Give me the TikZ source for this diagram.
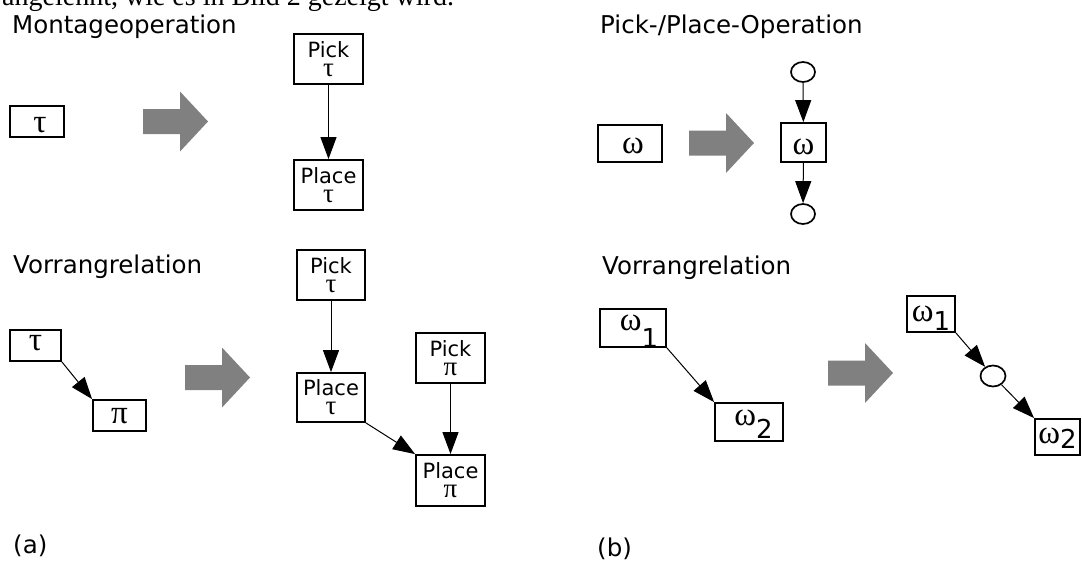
\documentclass[tikz,border=0pt]{standalone}
\usepackage{fontspec}
\setmainfont{DejaVu Sans}
\newfontfamily\grk{Liberation Serif}
\newfontfamily\serifbody{Liberation Serif}
\usetikzlibrary{arrows.meta,shapes.geometric}
\begin{document}
\begin{tikzpicture}[x=1pt,y=-1pt,
  head/.style={font=\fontsize{24.5}{29}\selectfont, anchor=base west, inner sep=0},
  box/.style={draw, line width=1.8pt, inner sep=0, rectangle},
  pp/.style={box, align=center, font=\fontsize{21}{19}\selectfont},
  gk/.style={box, font=\fontsize{33}{36}\grk},
  place/.style={draw, ellipse, line width=1.7pt, minimum width=24pt, minimum height=20pt, inner sep=0},
  conn/.style={line width=1pt, -{Triangle[length=22pt,width=16pt]}},
  bigarrow/.pic={\fill[black!50] (0,-12.5) -- (37,-12.5) -- (37,-30) -- (65,0) -- (37,30) -- (37,12.5) -- (0,12.5) -- cycle;}
]
\useasboundingbox[fill=white] (0,0) rectangle (1082,565);
\newcommand{\dig}[2]{\raisebox{-#1pt}{\normalfont\fontsize{26}{30}\selectfont #2}}
\newcommand{\gs}[1]{{\fontsize{27}{19}\grk #1}}

% clipped line of running text at the top
\begin{scope}
\clip (0,0) rectangle (1082,565);
\node[anchor=base west, inner sep=0, font=\fontsize{28}{32}\serifbody] (toptext) at (2,5) {angelehnt, wie es in Bild 2 gezeigt wird.};
\end{scope}

% headings
\node[head] (h1) at (12,33) {Montageoperation};
\node[head] (h2) at (600,33) {Pick-/Place-Operation};
\node[head] (h3) at (13,273) {Vorrangrelation};
\node[head] (h4) at (602,274) {Vorrangrelation};
\node[head] (la) at (13,553) {(a)};
\node[head] (lb) at (597,556) {(b)};

% (a) top: Montageoperation
\node[gk, minimum width=54pt, minimum height=31pt, text height=21pt, text depth=0pt] (tauA) at (37,121.5) {\hspace{6pt}τ};
\pic at (143,121.5) {bigarrow};
\node[pp, minimum width=69pt, minimum height=50pt] (pickTauA) at (328.5,59) {Pick\\\gs{τ}};
\node[pp, minimum width=69pt, minimum height=50pt] (placeTauA) at (328.5,185) {Place\\\gs{τ}};
\draw[conn] (pickTauA) -- (placeTauA);

% (a) bottom: Vorrangrelation
\node[gk, minimum width=51pt, minimum height=31pt, text height=9pt, text depth=0pt] (tauB) at (35.5,345.5) {τ};
\node[gk, minimum width=53pt, minimum height=31pt, text height=15pt, text depth=0pt] (piB) at (119.5,415.5) {π};
\draw[conn] (tauB.south east) -- (piB.north west);
\pic at (185,377.5) {bigarrow};
\node[pp, minimum width=68pt, minimum height=50pt] (pickTauB) at (331,275) {Pick\\\gs{τ}};
\node[pp, minimum width=68pt, minimum height=49pt] (placeTauB) at (331,397.5) {Place\\\gs{τ}};
\node[pp, minimum width=69pt, minimum height=50pt] (pickPi) at (450.5,358) {Pick\\\gs{π}};
\node[pp, minimum width=69pt, minimum height=51pt] (placePi) at (450.5,480.5) {Place\\\gs{π}};
\draw[conn] (pickTauB) -- (placeTauB);
\draw[conn] (placeTauB.south east) -- (placePi.north west);
\draw[conn] (pickPi) -- (placePi);

% (b) top: Pick-/Place-Operation
\node[gk, minimum width=64pt, minimum height=37pt, text height=19pt, text depth=0pt] (omegaA) at (630,143.5) {\hspace{6pt}ω};
\pic at (689,143) {bigarrow};
\node[gk, minimum width=45pt, minimum height=39pt, text height=23pt, text depth=0pt] (omegaB) at (803.5,142.5) {ω};
\node[place] (c1) at (803,72) {};
\node[place] (c2) at (803,214) {};
\draw[conn] (c1) -- (omegaB);
\draw[conn] (omegaB) -- (c2);

% (b) bottom: Vorrangrelation
\node[gk, minimum width=66pt, minimum height=38pt, text height=4pt, text depth=0pt] (om1) at (633,328) {\hspace{12pt}ω\dig{17}{1}};
\node[gk, minimum width=68pt, minimum height=38pt, text height=6pt, text depth=0pt] (om2) at (749,422) {\hspace{9pt}ω\dig{13}{2}};
\draw[conn] (om1.south east) -- (om2.north west);
\pic at (828,373) {bigarrow};
\node[gk, minimum width=48pt, minimum height=36pt, text height=14pt, text depth=0pt] (om1p) at (931,314) {ω\dig{9}{1}};
\node[place, minimum width=25pt, minimum height=21pt] (c3) at (993,376) {};
\node[gk, minimum width=45pt, minimum height=36pt, text height=12pt, text depth=0pt] (om2p) at (1057.5,437) {ω\dig{5}{2}};
\draw[conn] (om1p.south east) -- (c3);
\draw[conn] (c3) -- (om2p.north west);
\end{tikzpicture}
\end{document}
